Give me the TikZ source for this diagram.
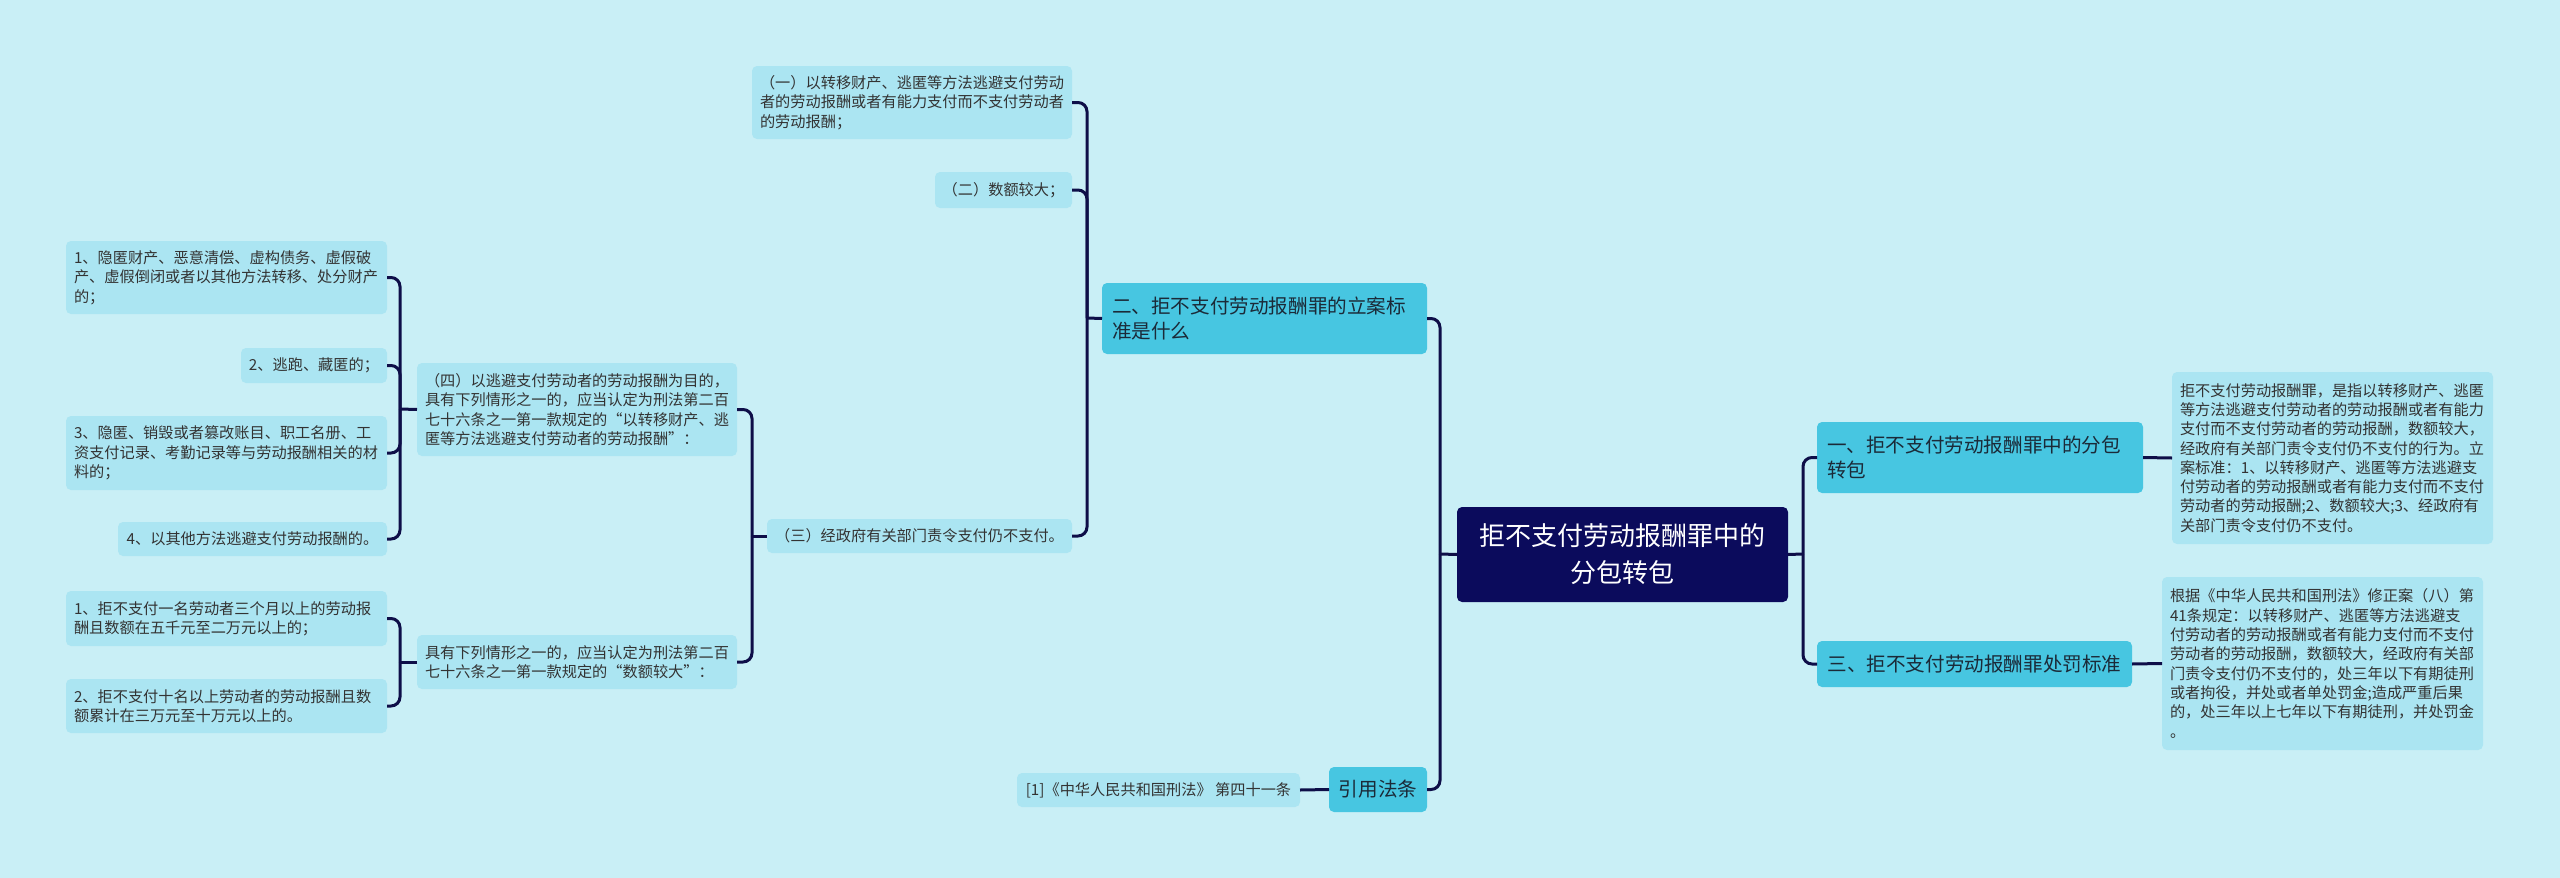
\documentclass[tikz,border=0pt]{standalone}
\usepackage{fontspec}
\setmainfont{Noto Sans CJK SC}
\definecolor{bgc}{HTML}{C9EFF6}
\definecolor{leafc}{HTML}{ABE5F2}
\definecolor{mainc}{HTML}{47C6E1}
\definecolor{rootc}{HTML}{0B0B5C}
\definecolor{linec}{HTML}{0E0E48}
\definecolor{leaftxt}{HTML}{333333}
\definecolor{maintxt}{HTML}{1B2A38}
\tikzset{
  base/.style={anchor=north west, rounded corners=5pt, inner xsep=8pt, inner ysep=0pt, outer sep=0pt},
  leaf/.style={base, fill=leafc, text=leaftxt, font=\fontsize{15.2pt}{19.3pt}\selectfont},
  mainn/.style={base, fill=mainc, text=maintxt, inner xsep=10pt, font=\fontsize{19.6pt}{25pt}\selectfont},
  rootn/.style={base, fill=rootc, text=white, font=\fontsize{26pt}{37pt}\selectfont},
  conn/.style={draw=linec, line width=3pt, rounded corners=9pt},
}
\begin{document}
\begin{tikzpicture}[x=1pt,y=-1pt]
\fill[bgc] (0,0) rectangle (2560,878);
\useasboundingbox (0,0) rectangle (2560,878);

% root
\node[rootn, align=center, minimum width=331pt, minimum height=95pt] (root) at (1457,507) {拒不支付劳动报酬罪中的\\分包转包};

% main branches
\node[mainn, align=left, text width=305pt, minimum height=71pt] (m2) at (1102,283) {二、拒不支付劳动报酬罪的立案标\\准是什么};
\node[mainn, align=left, text width=306pt, minimum height=71pt] (m1) at (1817,422) {一、拒不支付劳动报酬罪中的分包\\转包};
\node[mainn, minimum width=315pt, minimum height=46pt] (m3) at (1817,641) {三、拒不支付劳动报酬罪处罚标准};
\node[mainn, minimum width=98pt, minimum height=45pt, inner xsep=2pt] (m4) at (1329,767) {引用法条};

% leaves of m2
\node[leaf, align=left, text width=304pt, minimum height=73pt] (a1) at (752,66) {（一）以转移财产、逃匿等方法逃避支付劳动\\者的劳动报酬或者有能力支付而不支付劳动者\\的劳动报酬；};
\node[leaf, minimum width=137pt, minimum height=36pt, inner xsep=2pt] (a2) at (935,172) {（二）数额较大；};
\node[leaf, minimum width=305pt, minimum height=34pt, inner xsep=2pt] (a3) at (767,519) {（三）经政府有关部门责令支付仍不支付。};

% children of a3
\node[leaf, align=left, text width=304pt, minimum height=93pt] (b1) at (417,363) {（四）以逃避支付劳动者的劳动报酬为目的，\\具有下列情形之一的，应当认定为刑法第二百\\七十六条之一第一款规定的“以转移财产、逃\\匿等方法逃避支付劳动者的劳动报酬”：};
\node[leaf, align=left, text width=304pt, minimum height=54pt] (b2) at (417,635) {具有下列情形之一的，应当认定为刑法第二百\\七十六条之一第一款规定的“数额较大”：};

% children of b1
\node[leaf, align=left, text width=305pt, minimum height=73pt] (c1) at (66,241) {1、隐匿财产、恶意清偿、虚构债务、虚假破\\产、虚假倒闭或者以其他方法转移、处分财产\\的；};
\node[leaf, minimum width=146pt, minimum height=35pt, inner xsep=2pt] (c2) at (241,348) {2、逃跑、藏匿的；};
\node[leaf, align=left, text width=305pt, minimum height=74pt] (c3) at (66,416) {3、隐匿、销毁或者篡改账目、职工名册、工\\资支付记录、考勤记录等与劳动报酬相关的材\\料的；};
\node[leaf, minimum width=269pt, minimum height=34pt, inner xsep=2pt] (c4) at (118,522) {4、以其他方法逃避支付劳动报酬的。};

% children of b2
\node[leaf, align=left, text width=305pt, minimum height=55pt] (d1) at (66,591) {1、拒不支付一名劳动者三个月以上的劳动报\\酬且数额在五千元至二万元以上的；};
\node[leaf, align=left, text width=305pt, minimum height=54pt] (d2) at (66,679) {2、拒不支付十名以上劳动者的劳动报酬且数\\额累计在三万元至十万元以上的。};

% right leaves
\node[leaf, align=left, text width=305pt, minimum height=172pt] (r1) at (2172,372) {拒不支付劳动报酬罪，是指以转移财产、逃匿\\等方法逃避支付劳动者的劳动报酬或者有能力\\支付而不支付劳动者的劳动报酬，数额较大，\\经政府有关部门责令支付仍不支付的行为。立\\案标准：1、以转移财产、逃匿等方法逃避支\\付劳动者的劳动报酬或者有能力支付而不支付\\劳动者的劳动报酬;2、数额较大;3、经政府有\\关部门责令支付仍不支付。};
\node[leaf, align=left, text width=305pt, minimum height=173pt] (r2) at (2162,577) {根据《中华人民共和国刑法》修正案（八）第\\41条规定：以转移财产、逃匿等方法逃避支\\付劳动者的劳动报酬或者有能力支付而不支付\\劳动者的劳动报酬，数额较大，经政府有关部\\门责令支付仍不支付的，处三年以下有期徒刑\\或者拘役，并处或者单处罚金;造成严重后果\\的，处三年以上七年以下有期徒刑，并处罚金\\。};

% citation leaf
\node[leaf, minimum width=283pt, minimum height=34pt, inner xsep=2pt] (l1) at (1017,773) {[1]《中华人民共和国刑法》 第四十一条};

% trunk coordinates
\coordinate (t0) at (1440,554);
\coordinate (t1) at (1803,554);
\coordinate (t2) at (1087,318);
\coordinate (t3) at (752,536);
\coordinate (t4) at (400,409);
\coordinate (t5) at (400,662);

% connectors
\draw[conn] (root.west) -- (t0);
\draw[conn] (t0) |- (m2.east);
\draw[conn] (t0) |- (m4.east);
\draw[conn] (root.east) -- (t1);
\draw[conn] (t1) |- (m1.west);
\draw[conn] (t1) |- (m3.west);

\draw[conn] (m2.west) -- (t2);
\draw[conn] (t2) |- (a1.east);
\draw[conn] (t2) |- (a2.east);
\draw[conn] (t2) |- (a3.east);

\draw[conn] (a3.west) -- (t3);
\draw[conn] (t3) |- (b1.east);
\draw[conn] (t3) |- (b2.east);

\draw[conn] (b1.west) -- (t4);
\draw[conn] (t4) |- (c1.east);
\draw[conn] (t4) |- (c2.east);
\draw[conn] (t4) |- (c3.east);
\draw[conn] (t4) |- (c4.east);

\draw[conn] (b2.west) -- (t5);
\draw[conn] (t5) |- (d1.east);
\draw[conn] (t5) |- (d2.east);

\draw[conn] (m1.east) -- (r1.west);
\draw[conn] (m3.east) -- (r2.west);
\draw[conn] (m4.west) -- (l1.east);
\end{tikzpicture}
\end{document}
